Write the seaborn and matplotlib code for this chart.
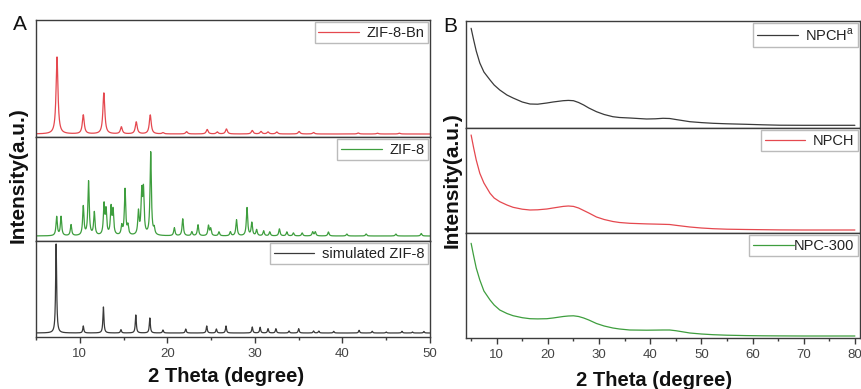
import numpy as np
import pandas as pd
import matplotlib
matplotlib.use("Agg")
import matplotlib.pyplot as plt
import seaborn as sns

# ---------------- Data ----------------
# Panel A: XRD peak lists (2theta position, relative height)
bn_pos = [7.4, 10.4, 12.75, 14.75, 16.45, 18.05, 19.5, 22.2, 24.55, 25.7, 26.75,
          29.7, 30.7, 31.5, 32.5, 35.05, 36.7, 41.8, 44.0, 46.5]
bn_h = [77, 19, 41, 7, 12, 19, 1.2, 2.3, 4.5, 2, 5, 3.5, 2.5, 2, 2, 2.5, 1.5, 1, 0.8, 0.8]

zif_pos = [7.36, 7.86, 9.0, 10.4, 11.0, 11.66, 12.77, 13.0, 13.57, 13.8, 14.8, 15.17,
           15.5, 16.7, 17.07, 17.27, 18.1, 18.5, 20.8, 21.76, 22.8, 23.5, 24.7, 24.95,
           25.9, 27.2, 27.9, 29.1, 29.65, 30.2, 31.0, 31.7, 32.8, 33.65, 34.4, 35.4,
           36.6, 36.9, 38.4, 40.5, 42.7, 46.1, 49.0]
zif_h = [19, 19, 11, 29, 54, 23, 30, 24, 27, 24, 9, 46, 9, 23, 41, 43, 83, 6, 8, 17, 4,
         11, 10, 7, 4, 4, 16, 28, 13, 6, 5, 4, 7, 4, 3, 3, 4, 4, 4, 2, 2, 2, 2.5]

sim_pos = [7.3, 10.4, 12.7, 14.7, 16.4, 18.0, 19.5, 22.1, 24.5, 25.6, 26.7, 29.7, 30.6,
           31.5, 32.4, 33.9, 35.0, 36.7, 37.3, 39.0, 41.9, 43.4, 45.0, 46.8, 48.0, 49.3]
sim_h = [89, 7, 26, 3.3, 18, 15, 3, 4, 7, 4, 7, 6, 5.7, 4.3, 4.3, 2, 4.3, 2, 2, 1.7,
         2.7, 1.7, 1, 1.7, 1, 1.5]

# Panel B: amorphous carbon patterns (2theta, intensity)
b_x = [5, 5.5, 6, 6.7, 7.5, 8.7, 9.5, 10.6, 12, 13.2,
       15, 16.5, 18, 19.8, 21, 23, 24, 25, 26, 27,
       28, 29.5, 31, 32.7, 34, 36, 39.3, 41, 42.5, 43.8,
       45, 47.75, 50, 52.3, 55, 58.8, 62, 65.3, 70, 75, 80]
npcha_y = [99.7, 88, 77, 65, 56, 48, 43, 38, 33, 30,
           26, 24, 23.8, 25, 26, 27.3, 27.6, 27.3, 25.5, 23,
           20, 16.3, 13.5, 11.3, 10.5, 10, 9, 9.2, 9.7, 9.5,
           8.5, 6.3, 5.4, 4.7, 4.2, 3.7, 3.2, 2.8, 2.7, 2.7, 2.7]
npch_y = [98, 85, 73, 59.7, 50, 39.7, 35, 31.3, 28, 25.7,
          23.8, 23, 23.2, 24, 25, 26.6, 27, 26.6, 25, 22.5,
          20, 16, 13.5, 11.5, 10.5, 9.7, 9.1, 8.9, 8.7, 8.5,
          7.7, 6, 5, 4.3, 3.8, 3.5, 3.3, 3.1, 3.0, 3.0, 3.0]
npc300_y = [94.7, 82, 70, 58, 47, 38, 33, 28, 24.5, 22.3,
            20.3, 19.3, 19.1, 19.3, 20, 21.5, 22, 22.2, 21.5, 20,
            18, 14.5, 12, 10, 9, 8, 7.8, 7.9, 8, 8,
            7.3, 5, 4, 3.3, 2.8, 2.4, 2.2, 2.1, 2.0, 2.0, 2.0]

labels_A = ["ZIF-8-Bn", "ZIF-8", "simulated ZIF-8"]
labels_B = ["NPCH$^{\\mathregular{a}}$", "NPCH", "NPC-300"]
xticks_A = [10, 20, 30, 40, 50]
xticks_B = [10, 20, 30, 40, 50, 60, 70, 80]

# ---------------- Style ----------------
sns.set_theme(style="white")
plt.rcParams["font.family"] = ["Liberation Sans", "DejaVu Sans"]
plt.rcParams["mathtext.fontset"] = "custom"
plt.rcParams["mathtext.rm"] = "Liberation Sans"

RED = "#e5484f"
GREEN = "#3e9e3e"
BLACK = "#3a3a3a"
SPINE = "#3c3c3c"


def profile(pos, h, gamma, grid):
    y = np.zeros_like(grid)
    for p, a in zip(pos, h):
        y += a * gamma**2 / ((grid - p) ** 2 + gamma**2)
    return y


fig = plt.figure(figsize=(8.61, 3.89), dpi=100)
W, H = 861.0, 389.0


def add_ax(left, right, top, bottom):
    return fig.add_axes([left / W, 1 - bottom / H, (right - left) / W, (bottom - top) / H])


grid = np.arange(5.0, 50.0001, 0.01)
a_rows = [(20, 137), (137, 241), (241, 337)]
a_series = [(bn_pos, bn_h, 0.13, RED, (-3, 114)),
            (zif_pos, zif_h, 0.09, GREEN, (-5, 99)),
            (sim_pos, sim_h, 0.07, BLACK, (-4, 92))]

b_rows = [(21, 128), (128, 233), (233, 338)]
b_series = [(npcha_y, BLACK, (0, 107)), (npch_y, RED, (0, 105)), (npc300_y, GREEN, (0, 105))]


def style_axis(ax, last, xticks, xlim):
    ax.set_xlim(*xlim)
    ax.set_yticks([])
    ax.set_ylabel("")
    ax.set_xlabel("")
    for s in ax.spines.values():
        s.set_color(SPINE)
        s.set_linewidth(1.0)
        s.set_visible(True)
    if last:
        ax.set_xticks(np.arange(5, xlim[1] + 0.1, 5), minor=True)
        ax.set_xticks(xticks)
        ax.tick_params(axis="x", which="major", direction="out", length=4, width=1,
                       color=SPINE, labelsize=9.5, labelcolor="#444444", pad=4, bottom=True)
        ax.tick_params(axis="x", which="minor", direction="out", length=2.5, width=1,
                       color=SPINE, bottom=True)
    else:
        ax.set_xticks([])
        ax.set_xticks([], minor=True)


def style_legend(ax, textpad):
    leg = ax.legend(loc="upper right", fontsize=10.5, frameon=True, fancybox=False,
                    handlelength=2.8, borderpad=0.25, borderaxespad=0.15,
                    handletextpad=textpad, labelcolor="#222222")
    leg.get_frame().set_edgecolor("#aaaaaa")
    leg.get_frame().set_linewidth(1.0)


for (top, bot), (pos, h, gam, col, yl), lab in zip(a_rows, a_series, labels_A):
    ax = add_ax(36, 430, top, bot)
    df = pd.DataFrame({"x": grid, "y": profile(pos, h, gam, grid)})
    sns.lineplot(data=df, x="x", y="y", ax=ax, color=col, linewidth=0.9, label=lab)
    ax.set_ylim(*yl)
    style_axis(ax, bot == 337, xticks_A, (5, 50))
    style_legend(ax, 0.5)

for (top, bot), (yv, col, yl), lab in zip(b_rows, b_series, labels_B):
    ax = add_ax(466, 860, top, bot)
    df = pd.DataFrame({"x": b_x, "y": yv})
    sns.lineplot(data=df, x="x", y="y", ax=ax, color=col, linewidth=0.9, label=lab)
    ax.set_ylim(*yl)
    style_axis(ax, bot == 338, xticks_B, (4, 81))
    style_legend(ax, 0.5 if lab != "NPC-300" else 0.0)

# Axis titles and panel letters
fig.text(18 / W, 1 - 175 / H, "Intensity(a.u.)", rotation=90, ha="center", va="center",
         fontsize=15, fontweight="bold", color="#111111")
fig.text(452 / W, 1 - 180 / H, "Intensity(a.u.)", rotation=90, ha="center", va="center",
         fontsize=15, fontweight="bold", color="#111111")
fig.text(226 / W, 1 - 377 / H, "2 Theta (degree)", ha="center", va="center",
         fontsize=14.5, fontweight="bold", color="#111111")
fig.text(654 / W, 1 - 380 / H, "2 Theta (degree)", ha="center", va="center",
         fontsize=14.5, fontweight="bold", color="#111111")
fig.text(20 / W, 1 - 25 / H, "A", ha="center", va="center", fontsize=15, color="#111111")
fig.text(450 / W, 1 - 26 / H, "B", ha="center", va="center", fontsize=15, color="#111111")

fig.savefig("out.png", dpi=100)
